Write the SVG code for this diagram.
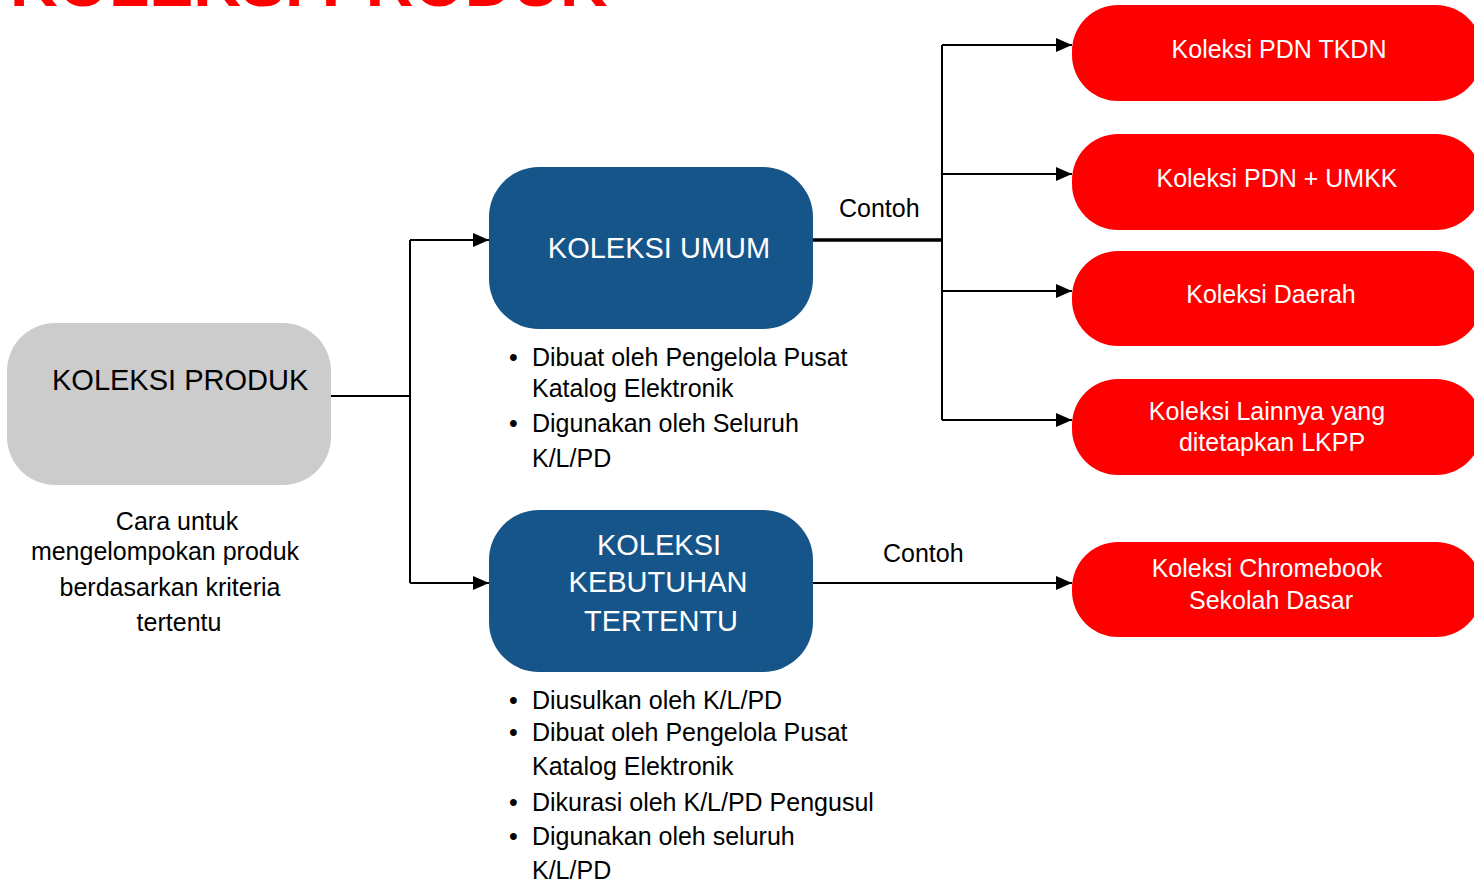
<svg xmlns="http://www.w3.org/2000/svg" width="1474" height="882" viewBox="0 0 1474 882">
<style>
text{font-family:"Liberation Sans",Arial,sans-serif}
.t{font-size:25px;fill:#000}
.big{font-size:29px}
.w{fill:#fff}
.r{fill:#ff0000}
.b{fill:#165589}
.c{stroke:#000;stroke-width:2;fill:none}
.m{text-anchor:middle}
</style>
<defs>
<marker id="ah" markerUnits="userSpaceOnUse" markerWidth="16" markerHeight="14" refX="16" refY="7" orient="auto">
<path d="M0,0 L16,7 L0,14 Z" fill="#000"/>
</marker>
</defs>
<rect width="1474" height="882" fill="#fff"/>
<text id="title" x="10" y="6" style="font-size:66px;font-weight:bold;fill:#ff0000">KOLEKSI PRODUK</text>

<g id="connectors">
<path class="c" d="M331,396 H410 M410,240 V583"/>
<path class="c" d="M410,240 H489" marker-end="url(#ah)"/>
<path class="c" d="M410,583 H489" marker-end="url(#ah)"/>
<path d="M813,240 H942" stroke="#000" stroke-width="3.5" fill="none"/>
<path class="c" d="M942,45 V420"/>
<path class="c" d="M942,45 H1072" marker-end="url(#ah)"/>
<path class="c" d="M942,174 H1072" marker-end="url(#ah)"/>
<path class="c" d="M942,291 H1072" marker-end="url(#ah)"/>
<path class="c" d="M942,420 H1072" marker-end="url(#ah)"/>
<path class="c" d="M813,583 H1072" marker-end="url(#ah)"/>
<text class="t" x="839" y="217">Contoh</text>
<text class="t" x="883" y="562">Contoh</text>
</g>

<g id="koleksi-produk">
<rect x="7" y="323" width="324" height="162" rx="48" fill="#cccccc"/>
<text class="big" x="52" y="390" fill="#000">KOLEKSI PRODUK</text>
<text class="t m" x="177" y="530">Cara untuk</text>
<text class="t m" x="165" y="560">mengelompokan produk</text>
<text class="t m" x="170" y="596">berdasarkan kriteria</text>
<text class="t m" x="179" y="631">tertentu</text>
</g>

<g id="koleksi-umum">
<rect class="b" x="489" y="167" width="324" height="162" rx="50"/>
<text class="big w m" x="659" y="258">KOLEKSI UMUM</text>
<text class="t" x="509" y="366">•</text>
<text class="t" x="532" y="366">Dibuat oleh Pengelola Pusat</text>
<text class="t" x="532" y="397">Katalog Elektronik</text>
<text class="t" x="509" y="432">•</text>
<text class="t" x="532" y="432">Digunakan oleh Seluruh</text>
<text class="t" x="532" y="467">K/L/PD</text>
</g>

<g id="koleksi-kebutuhan">
<rect class="b" x="489" y="510" width="324" height="162" rx="50"/>
<text class="big w m" x="659" y="555">KOLEKSI</text>
<text class="big w m" x="658" y="592">KEBUTUHAN</text>
<text class="big w m" x="661" y="631">TERTENTU</text>
<text class="t" x="509" y="709">•</text>
<text class="t" x="532" y="709">Diusulkan oleh K/L/PD</text>
<text class="t" x="509" y="741">•</text>
<text class="t" x="532" y="741">Dibuat oleh Pengelola Pusat</text>
<text class="t" x="532" y="775">Katalog Elektronik</text>
<text class="t" x="509" y="811">•</text>
<text class="t" x="532" y="811">Dikurasi oleh K/L/PD Pengusul</text>
<text class="t" x="509" y="845">•</text>
<text class="t" x="532" y="845">Digunakan oleh seluruh</text>
<text class="t" x="532" y="879">K/L/PD</text>
</g>

<g id="pdn-tkdn">
<rect class="r" x="1072" y="5" width="410" height="96" rx="46"/>
<text class="t w m" x="1279" y="58">Koleksi PDN TKDN</text>
</g>
<g id="pdn-umkk">
<rect class="r" x="1072" y="134" width="410" height="96" rx="46"/>
<text class="t w m" x="1277" y="187">Koleksi PDN + UMKK</text>
</g>
<g id="daerah">
<rect class="r" x="1072" y="251" width="410" height="95" rx="46"/>
<text class="t w m" x="1271" y="303">Koleksi Daerah</text>
</g>
<g id="lainnya">
<rect class="r" x="1072" y="379" width="410" height="96" rx="46"/>
<text class="t w m" x="1267" y="420">Koleksi Lainnya yang</text>
<text class="t w m" x="1272" y="451">ditetapkan LKPP</text>
</g>
<g id="chromebook">
<rect class="r" x="1072" y="542" width="410" height="95" rx="46"/>
<text class="t w m" x="1267" y="577">Koleksi Chromebook</text>
<text class="t w m" x="1271" y="609">Sekolah Dasar</text>
</g>
</svg>
